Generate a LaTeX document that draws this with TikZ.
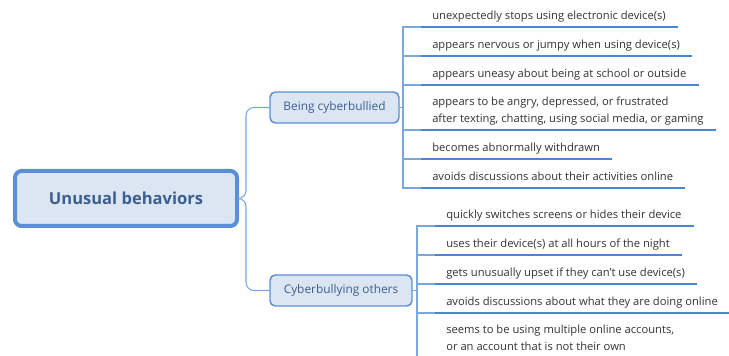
\documentclass[tikz,border=0pt]{standalone}
\usepackage{fontspec}
\setmainfont{Open Sans}
\usetikzlibrary{calc}
\definecolor{boxfill}{HTML}{DCE6F2}
\definecolor{boxline}{HTML}{5A8FD3}
\definecolor{conncol}{HTML}{7AA7DE}
\definecolor{ulcol}{HTML}{4A86D0}
\definecolor{titlecol}{HTML}{3B5F8F}
\definecolor{leafcol}{HTML}{333333}
\tikzset{
  rootbox/.style={draw=boxline, line width=3pt, fill=boxfill, rounded corners=5pt,
    minimum width=166.5pt, minimum height=41.25pt, inner sep=0pt,
    font=\fontsize{12.4}{15}\selectfont\bfseries, text=titlecol},
  branchbox/.style={draw=boxline, line width=1.1pt, fill=boxfill, rounded corners=4pt,
    minimum height=23.25pt, inner sep=0pt,
    font=\fontsize{8.9}{11}\selectfont, text=titlecol},
  leaf/.style={anchor=south west, inner sep=0pt, text depth=0pt, align=left,
    font=\fontsize{8.4}{12.75}\selectfont, text=leafcol},
  conn/.style={draw=conncol, line width=0.8pt},
  uline/.style={draw=ulcol, line width=1.6pt},
}
\newcommand{\uleaf}[1]{%
  \draw[uline] ($(#1.south west)+(-11,7.5)$) coordinate (#1u) -- ($(#1.south east)+(12,7.5)$);}
\begin{document}
\begin{tikzpicture}[x=0.75pt,y=-0.75pt]
\useasboundingbox (0,0) rectangle (729,356);
\clip (0,0) rectangle (729,356);
% root and branches
\node[rootbox] (root) at (126,198.5) {Unusual behaviors};
\node[branchbox, minimum width=96.75pt] (b1) at (334.5,107.5) {Being cyberbullied};
\node[branchbox, minimum width=106.5pt] (b2) at (341,290.5) {Cyberbullying others};
\draw[conn, rounded corners=6pt] (root.east) -- (246,198.5) |- (b1.west);
\draw[conn, rounded corners=6pt] (root.east) -- (246,198.5) |- (b2.west);
% group 1 leaves
\node[leaf] (a1) at (432,19.5) {unexpectedly stops using electronic device(s)};
\node[leaf] (a2) at (432,48.5) {appears nervous or jumpy when using device(s)};
\node[leaf] (a3) at (432,77.5) {appears uneasy about being at school or outside};
\node[leaf] (a4) at (432,122.5) {appears to be angry, depressed, or frustrated\\after texting, chatting, using social media, or gaming};
\node[leaf] (a5) at (432,151.5) {becomes abnormally withdrawn};
\node[leaf] (a6) at (432,180.5) {avoids discussions about their activities online};
\foreach \n in {a1,a2,a3,a4,a5,a6}{\uleaf{\n}}
\foreach \n in {a1,a2,a3,a4,a5,a6}{\draw[conn] (b1.east) -- (403,107.5) |- (\n u);}
% group 2 leaves
\node[leaf] (c1) at (446,218.5) {quickly switches screens or hides their device};
\node[leaf] (c2) at (446,247.5) {uses their device(s) at all hours of the night};
\node[leaf] (c3) at (446,276.5) {gets unusually upset if they can’t use device(s)};
\node[leaf] (c4) at (446,305.5) {avoids discussions about what they are doing online};
\node[leaf] (c5) at (446,350.5) {seems to be using multiple online accounts,\\or an account that is not their own};
\foreach \n in {c1,c2,c3,c4,c5}{\uleaf{\n}}
\foreach \n in {c1,c2,c3,c4,c5}{\draw[conn] (b2.east) -- (417,290.5) |- (\n u);}
\end{tikzpicture}
\end{document}
